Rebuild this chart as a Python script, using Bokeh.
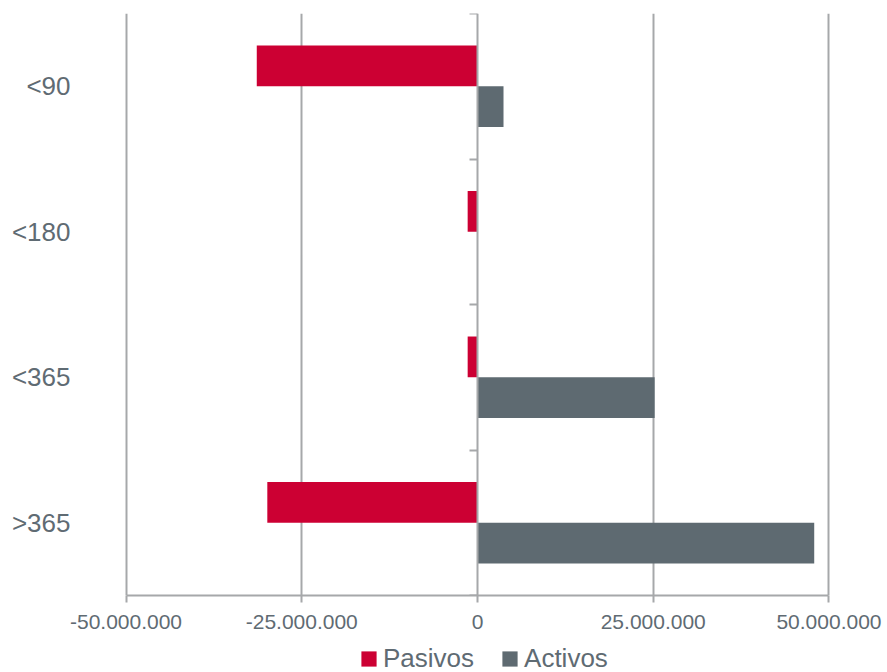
from bokeh.plotting import figure
from bokeh.layouts import column
from bokeh.models import (ColumnDataSource, FixedTicker, LinearAxis, Legend, LegendItem, Range1d, Grid)
from bokeh.embed import file_html
from bokeh.resources import INLINE

# ---- data ----
categories = ["<90", "<180", "<365", ">365"]
pasivos = [-31_400_000, -1_400_000, -1_400_000, -29_900_000]
activos = [3_700_000, 0, 25_200_000, 47_900_000]
x_ticks = [-50_000_000, -25_000_000, 0, 25_000_000, 50_000_000]
x_tick_labels = ["-50.000.000", "-25.000.000", "0", "25.000.000", "50.000.000"]
series_names = ["Pasivos", "Activos"]

RED = "#CC0033"
GRAY = "#5E6A71"
TEXT = "#5F6B73"
GRID = "#A6A8AA"
FONT = "Liberation Sans"

n = len(categories)
centers = [n - i - 0.5 for i in range(n)]  # top to bottom
bar_h = 0.28
src = ColumnDataSource(dict(
    cat=categories,
    pas=pasivos,
    act=activos,
    y_pas=[c + bar_h / 2 for c in centers],
    y_act=[c - bar_h / 2 for c in centers],
))

pad = 500_000
p = figure(frame_width=710, frame_height=582, output_backend="svg", toolbar_location=None,
           x_range=Range1d(x_ticks[0] - pad, x_ticks[-1] + pad), y_range=Range1d(0, n),
           min_border_left=122, min_border_right=54, min_border_top=13, min_border_bottom=0,
           x_axis_location=None, y_axis_location=None)
p.outline_line_color = None
p.background_fill_color = "white"
p.border_fill_color = "white"

p.hbar(y="y_pas", left=0, right="pas", height=bar_h, source=src,
       fill_color=RED, line_color=None)
p.hbar(y="y_act", left=0, right="act", height=bar_h, source=src,
       fill_color=GRAY, line_color=None)

# x axis
xaxis = LinearAxis(ticker=FixedTicker(ticks=x_ticks), bounds=(x_ticks[0], x_ticks[-1]),
                   major_label_overrides={t: l for t, l in zip(x_ticks, x_tick_labels)})
xaxis.axis_line_color = GRID
xaxis.axis_line_width = 2
xaxis.major_tick_line_color = GRID
xaxis.major_tick_line_width = 2
xaxis.major_tick_out = 7
xaxis.major_tick_in = 0
xaxis.minor_tick_line_color = None
xaxis.major_label_text_font = FONT
xaxis.major_label_text_font_size = "21px"
xaxis.major_label_text_color = TEXT
xaxis.major_label_standoff = 12
p.add_layout(xaxis, "below")

# category labels axis
yaxis = LinearAxis(ticker=FixedTicker(ticks=centers),
                   major_label_overrides={c: l for c, l in zip(centers, categories)})
yaxis.axis_line_color = None
yaxis.major_tick_line_color = None
yaxis.minor_tick_line_color = None
yaxis.major_label_text_font = FONT
yaxis.major_label_text_font_size = "26px"
yaxis.major_label_text_color = TEXT
yaxis.major_label_standoff = 46
p.add_layout(yaxis, "left")

# zero axis with category boundary ticks
zaxis = LinearAxis(ticker=FixedTicker(ticks=list(range(n + 1))), fixed_location=0)
zaxis.axis_line_color = GRID
zaxis.axis_line_width = 2
zaxis.major_tick_line_color = GRID
zaxis.major_tick_line_width = 2
zaxis.major_tick_out = 8
zaxis.major_tick_in = 0
zaxis.minor_tick_line_color = None
zaxis.major_label_text_font_size = "0px"
zaxis.major_label_text_alpha = 0
p.add_layout(zaxis, "left")

# grid
p.xgrid.visible = False
p.ygrid.visible = False
g = Grid(dimension=0, ticker=FixedTicker(ticks=[t for t in x_ticks if t != 0]))
g.grid_line_color = GRID
g.grid_line_width = 2
p.add_layout(g, "center")

# ---- legend strip ----
lf = figure(width=886, height=45, output_backend="svg", toolbar_location=None,
            x_range=Range1d(0, 1), y_range=Range1d(100, 101),
            min_border=0, x_axis_location=None, y_axis_location=None)
lf.outline_line_color = None
lf.xgrid.visible = False
lf.ygrid.visible = False
lr_pas = lf.hbar(y="y_pas", left=0, right="pas", height=bar_h, source=src,
                 fill_color=RED, line_color=None)
lr_act = lf.hbar(y="y_act", left=0, right="act", height=bar_h, source=src,
                 fill_color=GRAY, line_color=None)
legend = Legend(items=[LegendItem(label=series_names[0], renderers=[lr_pas]),
                       LegendItem(label=series_names[1], renderers=[lr_act])],
                orientation="horizontal", location=(237, 2))
legend.label_text_font = FONT
legend.label_text_font_size = "26px"
legend.label_text_color = TEXT
legend.glyph_width = 19
legend.glyph_height = 19
legend.label_standoff = 5
legend.spacing = 26
legend.padding = 0
legend.margin = 0
legend.border_line_color = None
legend.background_fill_alpha = 0
lf.add_layout(legend, "center")

layout = column(p, lf, spacing=0)
open("out.html", "w").write(file_html(layout, INLINE))
